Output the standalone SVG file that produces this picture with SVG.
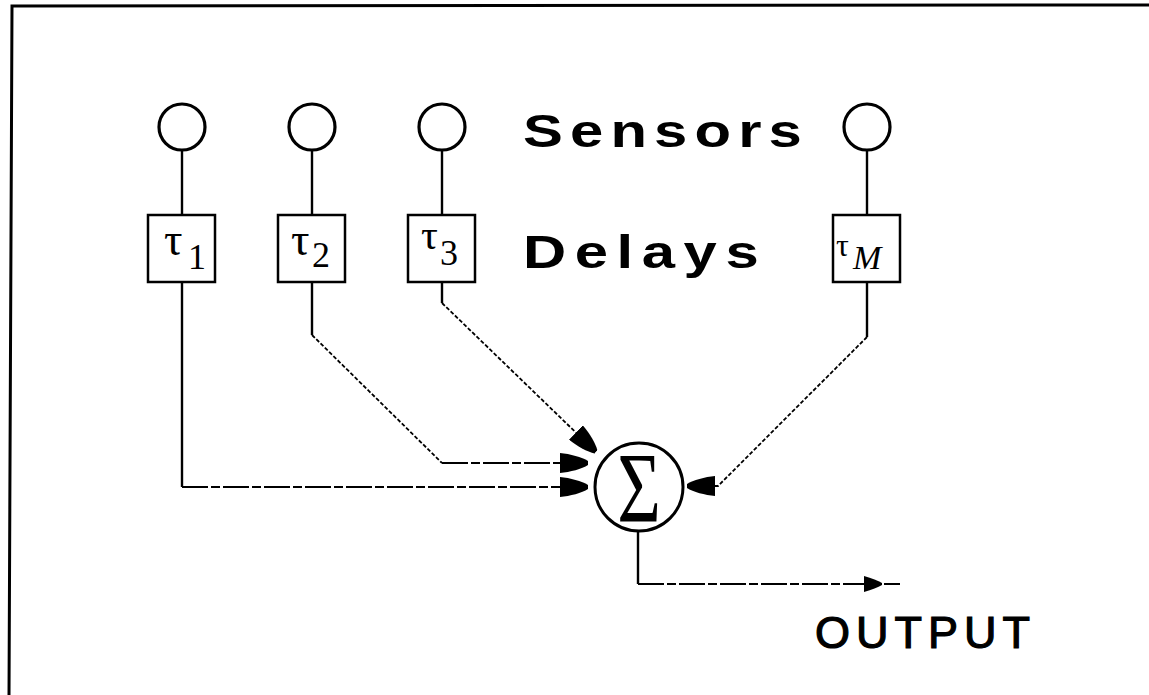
<svg xmlns="http://www.w3.org/2000/svg" width="1149" height="695" viewBox="0 0 1149 695">
<style>
.sensor{fill:none;stroke:#000;stroke-width:3.2}
.box{fill:#fff;stroke:#000;stroke-width:2.5}
.solid{fill:none;stroke:#000;stroke-width:2.4}
.hz{fill:none;stroke:#000;stroke-width:2.2;stroke-dasharray:26 3 9 3}
.dg{fill:none;stroke:#000;stroke-width:1.8;stroke-dasharray:4 2}
.tau{font-family:"Liberation Serif","DejaVu Serif",serif;fill:#000}
.lbl{font-family:"Liberation Sans",Arial,sans-serif;fill:#000}
</style>
<defs>
<marker id="ah" markerUnits="userSpaceOnUse" markerWidth="28" markerHeight="20" viewBox="0 0 28 20" refX="28" refY="10" orient="auto">
<path d="M0,0 C10,1 22,4 28,8 L28,12 C22,16 10,19 0,20 z" fill="#000"/>
</marker>
</defs>
<rect width="1149" height="695" fill="#fff"/>
<path d="M9,695 L12,6 L1149,5" fill="none" stroke="#000" stroke-width="3"/>

<g id="connectors">
<path class="solid" d="M182,150 V215"/>
<path class="solid" d="M312,150 V215"/>
<path class="solid" d="M442,150 V215"/>
<path class="solid" d="M867,150 V215"/>
<path class="solid" d="M182,282 V487"/>
<path class="hz" d="M182,487 H588" marker-end="url(#ah)"/>
<path class="solid" d="M312,282 V335"/>
<path class="dg" d="M312,335 L442,463"/>
<path class="hz" d="M442,463 H588" marker-end="url(#ah)"/>
<path class="solid" d="M442,282 V303"/>
<path class="dg" d="M442,303 L596,452" marker-end="url(#ah)"/>
<path class="solid" d="M867,282 V337"/>
<path class="dg" d="M867,337 L718,486 H687" marker-end="url(#ah)"/>
<path class="solid" d="M638,531 V584"/>
<path class="hz" d="M638,584 H900"/>
<path d="M864,576 C872,578 878,581 882,583 L882,585 C878,587 872,590 864,592 z" fill="#000"/>
</g>

<g id="sensor1"><circle class="sensor" cx="182" cy="127" r="23"/></g>
<g id="sensor2"><circle class="sensor" cx="312" cy="127" r="23"/></g>
<g id="sensor3"><circle class="sensor" cx="442" cy="127" r="23"/></g>
<g id="sensorM"><circle class="sensor" cx="867" cy="127" r="23"/></g>

<g id="delay1"><rect class="box" x="148" y="215" width="67" height="67"/>
<text class="tau" x="164" y="255" font-size="46">τ</text><text class="tau" x="188" y="269" font-size="36">1</text></g>
<g id="delay2"><rect class="box" x="278" y="215" width="67" height="67"/>
<text class="tau" x="291" y="255" font-size="46">τ</text><text class="tau" x="312" y="267" font-size="36">2</text></g>
<g id="delay3"><rect class="box" x="408" y="215" width="67" height="67"/>
<text class="tau" x="421" y="249" font-size="42">τ</text><text class="tau" x="440" y="265" font-size="36">3</text></g>
<g id="delayM"><rect class="box" x="833" y="215" width="67" height="67"/>
<text class="tau" x="836" y="256" font-size="32">τ</text><text class="tau" x="853" y="269" font-size="34" font-style="italic">M</text></g>

<g id="sum"><circle cx="639" cy="487" r="44" fill="none" stroke="#000" stroke-width="3"/>
<text class="tau" x="0" y="0" font-size="100" text-anchor="middle" transform="translate(639,521) scale(0.75,1)">Σ</text></g>

<g id="labels">
<text class="lbl" x="0" y="0" font-size="46" font-weight="bold" letter-spacing="5.5" transform="translate(523,147) scale(1.3,1)">Sensors</text>
<text class="lbl" x="0" y="0" font-size="46" font-weight="bold" letter-spacing="6.6" transform="translate(523,268) scale(1.3,1)">Delays</text>
<text class="lbl" x="815" y="648" font-size="45" letter-spacing="6" stroke="#000" stroke-width="1.2">OUTPUT</text>
</g>
</svg>
